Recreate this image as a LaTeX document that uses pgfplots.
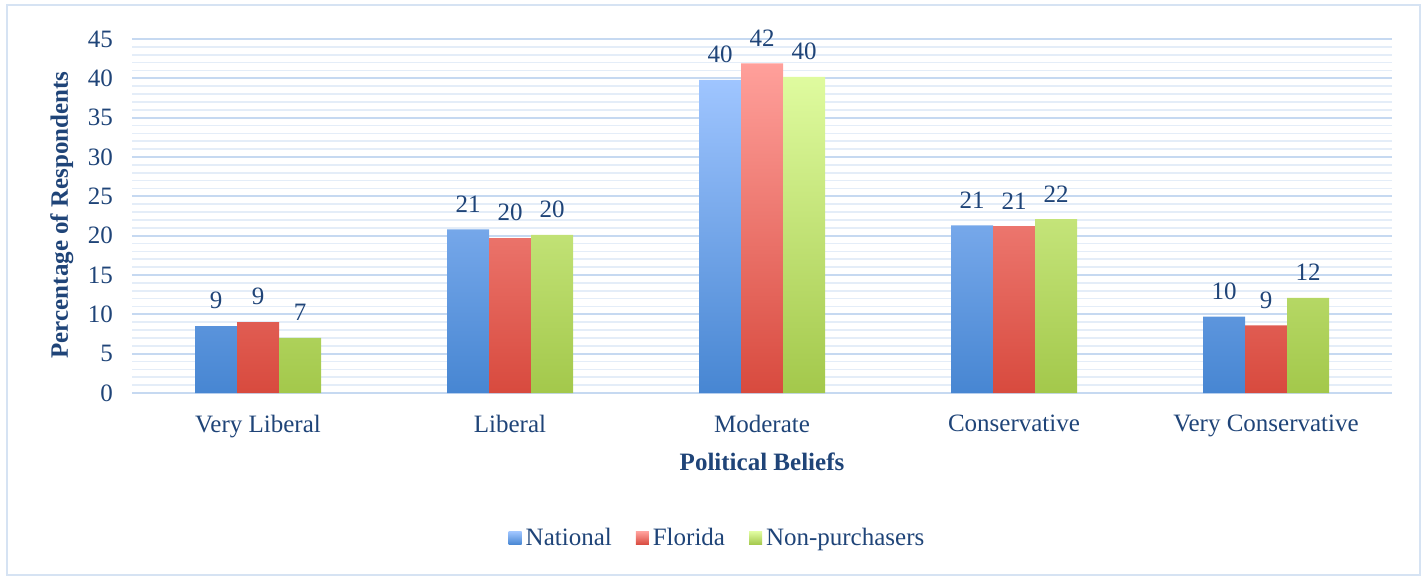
\documentclass[border=0pt]{standalone}
\usepackage{pgfplots}
\pgfplotsset{compat=1.18}
\usepackage{fontspec}
\setmainfont{Liberation Serif}
\definecolor{txt}{HTML}{1F4478}
\definecolor{frame}{HTML}{D6E3F3}
\definecolor{majg}{HTML}{C6D9F1}
\definecolor{ming}{HTML}{E4EDF8}
\definecolor{bluetop}{HTML}{9FC5FF}
\definecolor{bluebot}{HTML}{4786D2}
\definecolor{redtop}{HTML}{FFA09B}
\definecolor{redbot}{HTML}{D84A3E}
\definecolor{greentop}{HTML}{DFFB9F}
\definecolor{greenbot}{HTML}{A3C84B}
\newcommand{\tf}{\fontsize{12.5}{15}\selectfont}
\begin{document}
\begin{tikzpicture}
\begin{scope}[overlay]
\begin{axis}[
  name=ax, anchor=south west,
  scale only axis, width=630pt, height=177pt,
  xmin=-0.5, xmax=4.5, ymin=0, ymax=45,
  ybar=0pt, bar width=21pt,
  axis line style={draw=none},
  major tick length=0pt, minor tick length=0pt,
  xtick={0,1,2,3,4},
  xticklabels={Very Liberal, Liberal, Moderate, Conservative, Very Conservative},
  ytick={0,5,...,45},
  minor y tick num=4,
  ymajorgrids, yminorgrids,
  major grid style={draw=majg, line width=0.9pt},
  minor grid style={draw=ming, line width=0.8pt},
  /pgf/number format/assume math mode=true,
  tick label style={font=\tf, text=txt},
  xticklabel style={yshift=-7.5pt},
  yticklabel style={xshift=-6pt},
  xlabel={\textbf{Political Beliefs}},
  ylabel={\textbf{Percentage of Respondents}},
  label style={font=\tf, text=txt},
  xlabel style={at={(axis description cs:0.5,-0.195)}, anchor=center},
  ylabel style={at={(axis description cs:-0.0556,0.503)}, anchor=center, rotate=0},
  point meta=explicit symbolic,
  nodes near coords,
  every node near coord/.append style={font=\tf, text=txt, yshift=5pt},
  legend columns=3,
  legend style={at={(axis description cs:0.4655,-0.41)}, anchor=center, draw=none, fill=none, font=\tf, text=txt, /tikz/every even column/.append style={column sep=10pt}},
  legend image code/.code={\path[#1] (0pt,-3.25pt) rectangle (6.5pt,3.25pt);},
  clip=false,
]
\addplot[draw=none, top color=bluetop, bottom color=bluebot] coordinates {(0,8.5)[9] (1,20.8)[21] (2,39.8)[40] (3,21.3)[21] (4,9.7)[10]};
\addplot[draw=none, top color=redtop, bottom color=redbot] coordinates {(0,9.0)[9] (1,19.7)[20] (2,41.9)[42] (3,21.2)[21] (4,8.6)[9]};
\addplot[draw=none, top color=greentop, bottom color=greenbot] coordinates {(0,7.0)[7] (1,20.1)[20] (2,40.2)[40] (3,22.1)[22] (4,12.1)[12]};
\legend{National, Florida, Non-purchasers}
\end{axis}
\end{scope}
\path[use as bounding box] ([shift={(-66pt,-93.5pt)}]ax.south west) rectangle ([shift={(648pt,196.5pt)}]ax.south west);
\draw[color=frame, line width=0.8pt] ([shift={(-62.5pt,-91pt)}]ax.south west) rectangle ([shift={(644pt,194pt)}]ax.south west);
\end{tikzpicture}
\end{document}
